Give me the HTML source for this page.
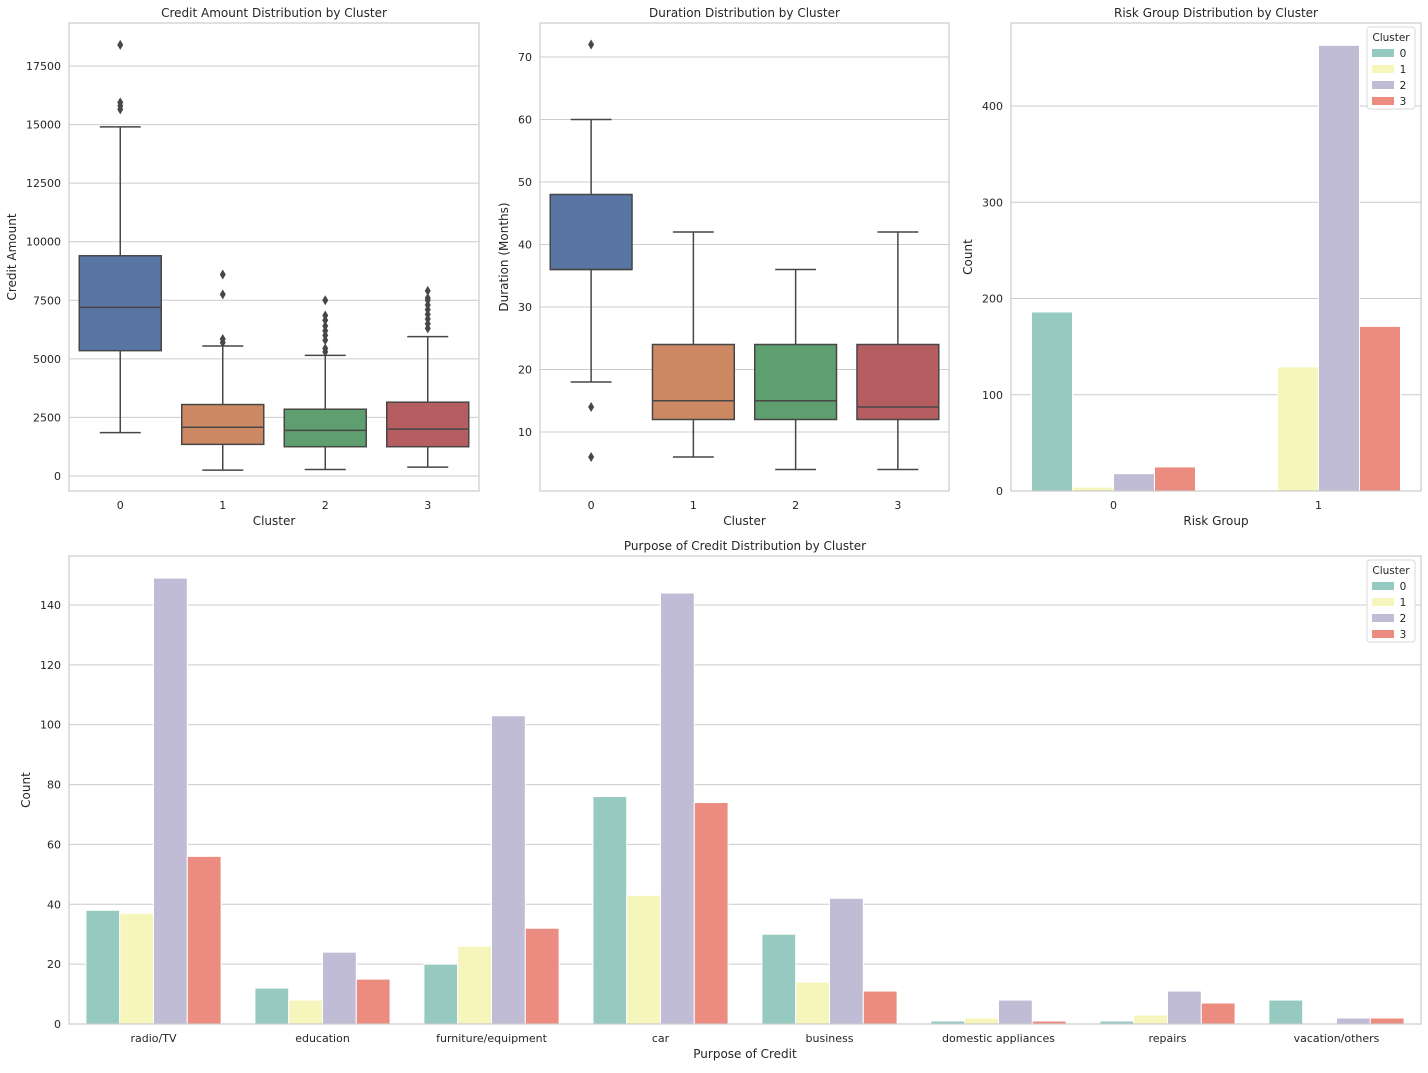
<!DOCTYPE html>
<html><head><meta charset="utf-8"><style>
body{margin:0;background:#fff;font-family:"Liberation Sans","DejaVu Sans",sans-serif;}
svg text{font-family:"DejaVu Sans","Liberation Sans",sans-serif;fill:#262626;}
</style></head><body>
<svg id="s" width="1428" height="1068"></svg>
<script>
const clusters=["0","1","2","3"];
const boxColors=["#5975a4","#cc8963","#5f9e6e","#b55d60"];
const barColors=["#96cac1","#f6f5bc","#c1bcd6","#ec8c80"];
const creditStats=[[1850,5350,7200,9400,14900],[250,1350,2080,3050,5550],[280,1250,1950,2850,5150],[380,1250,2000,3150,5950]];
const creditFliers=[[15650,15800,15950,18400],[5700,5850,7750,8600],[5300,5450,5800,6000,6200,6400,6650,6850,7500],[6300,6500,6700,6900,7100,7300,7500,7600,7900]];
const creditTicks=[0,2500,5000,7500,10000,12500,15000,17500];
const durStats=[[18,36,36,48,60],[6,12,15,24,42],[4,12,15,24,36],[4,12,14,24,42]];
const durFliers=[[6,14,72],[],[],[]];
const durTicks=[10,20,30,40,50,60,70];
const riskCats=["0","1"];
const riskVals=[[186,0],[4,129],[18,463],[25,171]];
const riskTicks=[0,100,200,300,400];
const purposeCats=["radio/TV","education","furniture/equipment","car","business","domestic appliances","repairs","vacation/others"];
const purposeVals=[[38,12,20,76,30,1,1,8],[37,8,26,43,14,2,3,0],[149,24,103,144,42,8,11,2],[56,15,32,74,11,1,7,2]];
const purposeTicks=[0,20,40,60,80,100,120,140];

const S=document.getElementById('s');const NS="http://www.w3.org/2000/svg";
function el(t,a,p){const e=document.createElementNS(NS,t);for(const k in a)e.setAttribute(k,a[k]);(p||S).appendChild(e);return e;}
function txt(x,y,s,size,anchor,extra){const t=el('text',Object.assign({x:x,y:y,'font-size':size,'text-anchor':anchor||'middle'},extra||{}));t.textContent=s;return t;}

function panel(name,L,T,R,B,title,xl,yl,ylx){
 const g=el('g',{});
 
 
 const t=txt((L+R)/2,T-6,title,12);
 
 
 const x=txt((L+R)/2,B+34,xl,12);
 
 
 const y=txt(ylx,(T+B)/2,yl,12,'middle',{transform:`rotate(-90 ${ylx} ${(T+B)/2})`});
 
 
 return g;
}
function frame(L,T,R,B){el('rect',{x:L,y:T,width:R-L,height:B-T,fill:'none',stroke:'#cccccc','stroke-width':1.2});}
function yGrid(ticks,ys,L,R){ticks.forEach(v=>{const y=ys(v);el('line',{x1:L,x2:R,y1:y,y2:y,stroke:'#cccccc','stroke-width':1});const t=txt(L-8,y+4,String(v),11,'end');});}

function boxPanel(name,L,T,R,B,stats,fliers,ticks,ys,title,yl,ylx){
 panel(name,L,T,R,B,title,'Cluster',yl,ylx);
 yGrid(ticks,ys,L,R);
 const step=(R-L)/4;
 stats.forEach((s,i)=>{
  const cx=L+step*(i+0.5),w=step*0.8;
  el('line',{x1:cx,x2:cx,y1:ys(s[0]),y2:ys(s[1]),stroke:'#474747','stroke-width':1.5});
  el('line',{x1:cx,x2:cx,y1:ys(s[3]),y2:ys(s[4]),stroke:'#474747','stroke-width':1.5});
  el('line',{x1:cx-w/4,x2:cx+w/4,y1:ys(s[0]),y2:ys(s[0]),stroke:'#474747','stroke-width':1.5});
  el('line',{x1:cx-w/4,x2:cx+w/4,y1:ys(s[4]),y2:ys(s[4]),stroke:'#474747','stroke-width':1.5});
  const r=el('rect',{x:cx-w/2,y:ys(s[3]),width:w,height:ys(s[1])-ys(s[3]),fill:boxColors[i],stroke:'#474747','stroke-width':1.5});
  
  
  el('line',{x1:cx-w/2,x2:cx+w/2,y1:ys(s[2]),y2:ys(s[2]),stroke:'#474747','stroke-width':1.5});
  fliers[i].forEach(v=>{const d=el('path',{d:`M${cx} ${ys(v)-5}L${cx+3} ${ys(v)}L${cx} ${ys(v)+5}L${cx-3} ${ys(v)}Z`,fill:'#474747'});});
  const t=txt(cx,B+18,clusters[i],11);
 });
 frame(L,T,R,B);
}
boxPanel('credit-amount-boxplot',69,23,479,491,creditStats,creditFliers,creditTicks,v=>476-v*(410/17500),'Credit Amount Distribution by Cluster','Credit Amount',16);
boxPanel('duration-boxplot',540,23,949,491,durStats,durFliers,durTicks,v=>432-(v-10)*(375/60),'Duration Distribution by Cluster','Duration (Months)',508);

function legend(name,R,T){
 const g=el('g',{});
 
 
 el('rect',{x:R-54,y:T+4,width:48,height:82,fill:'#fff',stroke:'#d8d8d8',rx:3},g);
 const t=txt(R-30,T+18,'Cluster',10.5,'middle');g.appendChild(t);
 clusters.forEach((c,i)=>{
  el('rect',{x:R-49,y:T+26+i*16,width:22,height:8,fill:barColors[i]},g);
  const l=txt(R-18,T+34+i*16,c,10.5,'middle');g.appendChild(l);
  
  
 });
}
function barPanel(name,L,T,R,B,cats,vals,ticks,ys,title,xl,ylx){
 panel(name,L,T,R,B,title,xl,'Count',ylx);
 yGrid(ticks,ys,L,R);
 const step=(R-L)/cats.length,bw=step*0.8/4;
 cats.forEach((c,j)=>{
  const cx=L+step*(j+0.5);
  vals.forEach((ser,i)=>{
   const v=ser[j];const x=cx-step*0.4+i*bw;
   const r=el('rect',{x:x,y:ys(v),width:bw,height:ys(0)-ys(v),fill:barColors[i],stroke:'#fff','stroke-width':1});
   
   
  });
  const t=txt(cx,B+18,c,11);
 });
 frame(L,T,R,B);
 legend(name+'-legend',R,T);
}
barPanel('risk-group-barplot',1011,23,1421,491,riskCats,riskVals,riskTicks,v=>491-v*0.9625,'Risk Group Distribution by Cluster','Risk Group',972);
barPanel('purpose-barplot',69,556,1421,1024,purposeCats,purposeVals,purposeTicks,v=>1024-v*(419/140),'Purpose of Credit Distribution by Cluster','Purpose of Credit',30);
</script>
</body></html>
